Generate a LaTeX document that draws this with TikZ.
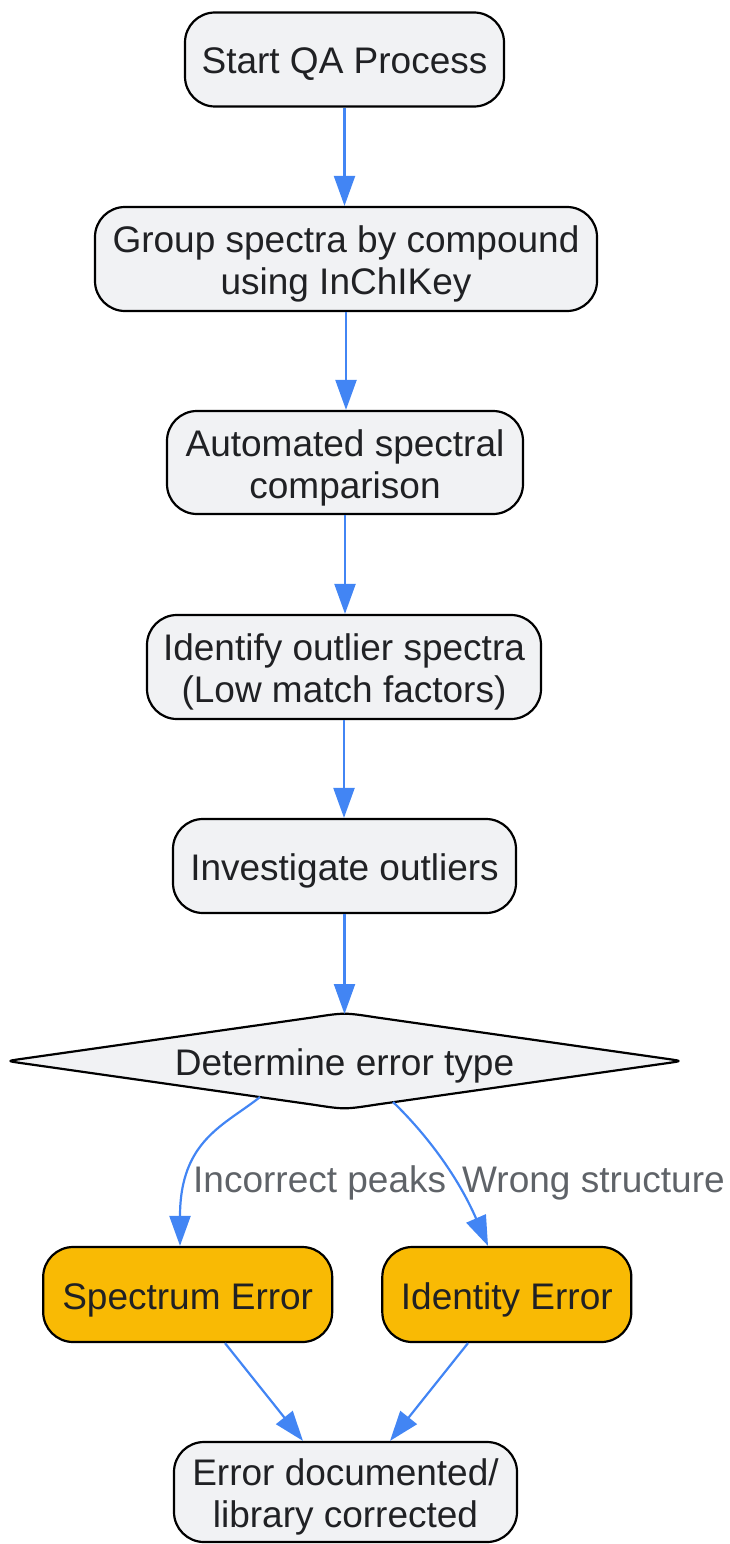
\documentclass[tikz,border=0pt]{standalone}
\usepackage{fontspec}
\setmainfont{Liberation Sans}
\usetikzlibrary{arrows.meta}
\definecolor{boxfill}{HTML}{F1F2F4}
\definecolor{errfill}{HTML}{F9BA04}
\definecolor{edgeblue}{HTML}{4285F4}
\definecolor{txt}{HTML}{202124}
\definecolor{lbl}{HTML}{5F6368}
\begin{document}
\begin{tikzpicture}[x=1pt,y=-1pt,
  box/.style={draw=black, line width=2.2pt, fill=boxfill, rounded corners=30pt, inner sep=0pt, align=center, text=txt, font=\fontsize{37}{42}\selectfont, text height=29pt, text depth=0pt},
  twoline/.style={text height=71pt, text depth=0pt},
  errbox/.style={box, fill=errfill},
  flow/.style={draw=edgeblue, line width=2.2pt, -{Triangle[length=30pt,width=21pt]}},
  elabel/.style={text=lbl, font=\fontsize{37}{42}\selectfont, inner sep=0pt, anchor=base west},
  dectext/.style={text=txt, font=\fontsize{37}{42}\selectfont, inner sep=0pt, text height=29pt, text depth=0pt}
]
\useasboundingbox (0,0) rectangle (729,1544);
\node[box, minimum width=319pt, minimum height=94pt] (start) at (344.5,59.5) {Start QA Process};
\node[box, twoline, minimum width=502pt, minimum height=104pt] (group) at (346,259) {Group spectra by compound\\using InChIKey};
\node[box, twoline, minimum width=356pt, minimum height=103pt] (auto) at (345,462.5) {Automated spectral\\comparison};
\node[box, twoline, minimum width=394pt, minimum height=104pt] (ident) at (344,667) {Identify outlier spectra\\(Low match factors)};
\node[box, minimum width=343pt, minimum height=94pt] (invest) at (344.5,866) {Investigate outliers};
% decision diamond
\draw[line width=2.2pt, fill=boxfill, line join=round]
  (20.8,1059) -- (312.8,1017.4) .. controls (344.5,1012.5) .. (376.2,1017.4)
  -- (668.2,1059) .. controls (682,1061) .. (668.2,1063)
  -- (376.2,1104.6) .. controls (344.5,1109.5) .. (312.8,1104.6)
  -- (20.8,1063) .. controls (7,1061) .. (20.8,1059) -- cycle;
\node[dectext] (dec) at (344.5,1061) {Determine error type};
\coordinate (dtop) at (344.5,1014);
\coordinate (dl) at (260,1097);
\coordinate (dr) at (393,1102);
\node[errbox, minimum width=289pt, minimum height=95pt] (spectrum) at (187.7,1294.5) {Spectrum Error};
\node[errbox, minimum width=249pt, minimum height=95pt] (identity) at (506.8,1294.5) {Identity Error};
\node[box, twoline, minimum width=343pt, minimum height=100pt] (final) at (345.5,1492) {Error documented/\\library corrected};
% connectors
\draw[flow] (start.south) -- (start.south |- group.north);
\draw[flow] (group.south) -- (group.south |- auto.north);
\draw[flow] (auto.south) -- (auto.south |- ident.north);
\draw[flow] (ident.south) -- (ident.south |- invest.north);
\draw[flow] (invest.south) -- (invest.south |- dtop);
\draw[flow] (dl) .. controls (225,1125) and (180,1140) .. ([xshift=-7.7pt]spectrum.north);
\draw[flow] (dr) .. controls (420,1128) and (455,1170) .. ([xshift=-18.8pt]identity.north);
\draw[flow] ([xshift=37.3pt]spectrum.south) -- ([xshift=-42.5pt]final.north);
\draw[flow] ([xshift=-38.8pt]identity.south) -- ([xshift=44.5pt]final.north);
\node[elabel] (lab1) at (193,1192) {Incorrect peaks};
\node[elabel] (lab2) at (462,1192) {Wrong structure};
\end{tikzpicture}
\end{document}
